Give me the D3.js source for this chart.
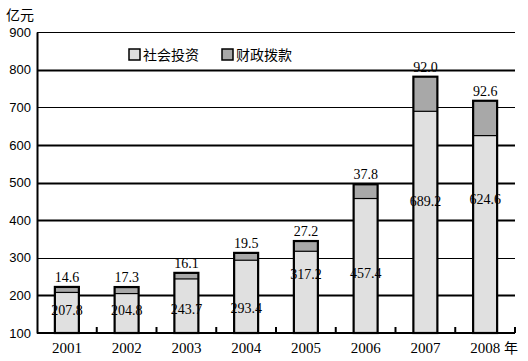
<!DOCTYPE html>
<html><head><meta charset="utf-8">
<script src="https://cdn.jsdelivr.net/npm/d3@7"></script>
<style>body{margin:0;background:#fff}svg{display:block}</style>
</head><body>
<svg id="c" width="528" height="361"></svg>
<script>
const years = ["2001","2002","2003","2004","2005","2006","2007","2008"];
const social = [207.8,204.8,243.7,293.4,317.2,457.4,689.2,624.6];
const fiscal = [14.6,17.3,16.1,19.5,27.2,37.8,92.0,92.6];
const yTicks = [100,200,300,400,500,600,700,800,900];
const seriesNames = ["社会投资","财政拨款"];
// value at which the social-investment label sits (as in the original)
const socLabelAt = [162,162,165,167,258,260,450,457];

const svg = d3.select("#c");
const L = 37, R = 515, T = 32, B = 333;
const x = d3.scaleBand().domain(years).range([L, R]).paddingInner(0.6).paddingOuter(0.3);
const xb = d3.scaleBand().domain(years).range([L, R]);
const y = d3.scaleLinear().domain([100, 900]).range([B, T]);
const thick = {800:2,600:2,500:2,400:2,200:2};

// gridlines
svg.append("g").selectAll("line").data(yTicks.filter(v => v > 100)).join("line")
  .attr("x1", L).attr("x2", R)
  .attr("y1", d => Math.round(y(d)) + 0.5).attr("y2", d => Math.round(y(d)) + 0.5)
  .attr("stroke", "#000").attr("stroke-width", d => thick[d] || 1.2);

// y axis
const ya = svg.append("g").attr("transform", `translate(${L},0)`)
  .call(d3.axisLeft(y).tickValues(yTicks).tickSize(0).tickPadding(6).tickFormat(d3.format("d")));
ya.select(".domain").attr("stroke", "#000").attr("stroke-width", 2);
ya.selectAll("text").attr("font-family", "Liberation Sans, Arial, sans-serif").attr("font-size", 13).attr("fill", "#000");

// x axis with inside ticks at category boundaries
svg.append("line").attr("x1", L).attr("x2", R).attr("y1", B).attr("y2", B)
  .attr("stroke", "#000").attr("stroke-width", 2);
svg.append("g").selectAll("line").data(years.slice(1).concat(["end"])).join("line")
  .attr("x1", (d, i) => i < years.length - 1 ? xb(d) : R)
  .attr("x2", (d, i) => i < years.length - 1 ? xb(d) : R)
  .attr("y1", B).attr("y2", B - 6).attr("stroke", "#000").attr("stroke-width", 2);
svg.append("g").selectAll("text").data(years).join("text")
  .attr("x", d => xb(d) + xb.bandwidth() / 2).attr("y", 353)
  .attr("text-anchor", "middle").attr("font-family", "Liberation Serif, Times New Roman, serif")
  .attr("font-size", 15).text(d => d);

// bars
const g = svg.append("g");
years.forEach((yr, i) => {
  const cx = xb(yr) + xb.bandwidth() / 2, w = 24, x0 = cx - w / 2;
  const s = social[i], f = fiscal[i];
  g.append("rect").attr("x", x0).attr("y", y(s)).attr("width", w).attr("height", B - y(s))
    .attr("fill", "#e0e0e0");
  g.append("rect").attr("x", x0).attr("y", y(s + f)).attr("width", w).attr("height", y(s) - y(s + f))
    .attr("fill", "#a8a8a8");
  g.append("line").attr("x1", x0).attr("x2", x0 + w).attr("y1", y(s)).attr("y2", y(s))
    .attr("stroke", "#000").attr("stroke-width", 1.2);
  g.append("rect").attr("x", x0).attr("y", y(s + f)).attr("width", w).attr("height", B - y(s + f))
    .attr("fill", "none").attr("stroke", "#000").attr("stroke-width", 2.2);
  g.append("text").attr("x", cx).attr("y", y(s + f) - 5).attr("text-anchor", "middle")
    .attr("font-family", "Liberation Serif, Times New Roman, serif").attr("font-size", 14)
    .text(f.toFixed(1));
  g.append("text").attr("x", cx).attr("y", y(socLabelAt[i]) + 5).attr("text-anchor", "middle")
    .attr("font-family", "Liberation Serif, Times New Roman, serif").attr("font-size", 14)
    .text(s.toFixed(1));
});

// legend
const leg = svg.append("g");
const lx = [129, 222], cols = ["#e0e0e0", "#a8a8a8"];
seriesNames.forEach((n, i) => {
  leg.append("rect").attr("x", lx[i]).attr("y", 49).attr("width", 11).attr("height", 11)
    .attr("fill", cols[i]).attr("stroke", "#000").attr("stroke-width", 1.5);
  leg.append("text").attr("x", lx[i] + 14).attr("y", 60)
    .attr("font-family", "Noto Sans CJK SC, sans-serif").attr("font-size", 14).text(n);
});

svg.append("text").attr("x", 6).attr("y", 20).attr("font-family", "Noto Sans CJK SC, sans-serif")
  .attr("font-size", 14).text("亿元");
svg.append("text").attr("x", 504).attr("y", 353).attr("font-family", "Noto Sans CJK SC, sans-serif")
  .attr("font-size", 14).text("年");
</script>
</body></html>
